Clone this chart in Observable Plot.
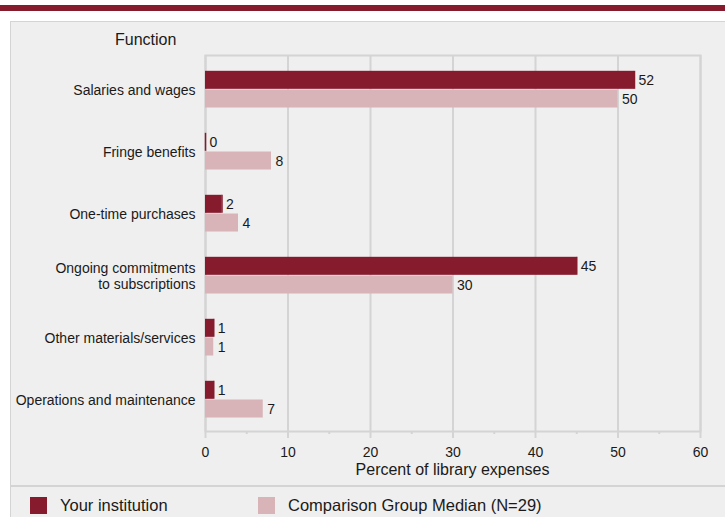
<!DOCTYPE html>
<html>
<head>
<meta charset="utf-8">
<script src="https://cdn.jsdelivr.net/npm/d3@7"></script>
<script src="https://cdn.jsdelivr.net/npm/@observablehq/plot@0.6"></script>
<style>
  html, body { margin: 0; padding: 0; background: #ffffff; }
  body { width: 725px; height: 517px; position: relative; overflow: hidden;
         font-family: "Liberation Sans", Arial, sans-serif; color: #1a1a1a; }
  #band { position: absolute; left: 0; top: 5px; width: 725px; height: 6px; background: #861b2e; }
  #panel { position: absolute; left: 10px; top: 21px; right: 0; bottom: 0; background: #efefef;
           border-top: 1.5px solid #d4d4d4; border-left: 1.5px solid #d4d4d4; }
  #sep { position: absolute; left: 10px; right: 0; top: 485px; height: 0; border-top: 2px solid #d4d4d4; }
  #fn { position: absolute; left: 115px; top: 31px; font-size: 16px; }
  #chart { position: absolute; left: 0; top: 0; }
  #xtitle { position: absolute; left: 205px; width: 495px; top: 461px; text-align: center; font-size: 16px; }
  .leg { position: absolute; top: 496px; font-size: 16.5px; line-height: 18px; }
  .sw { position: absolute; top: 497px; width: 17px; height: 17px; }
</style>
</head>
<body>
<div id="band"></div>
<div id="panel"></div>
<div id="sep"></div>
<div id="fn">Function</div>
<div id="chart"></div>
<div id="xtitle">Percent of library expenses</div>
<div class="sw" style="left:30px;background:#861b2e"></div>
<div class="leg" style="left:60px">Your institution</div>
<div class="sw" style="left:258px;background:#d8b4b9"></div>
<div class="leg" style="left:288px">Comparison Group Median (N=29)</div>
<script>
const categories = [
  "Salaries and wages",
  "Fringe benefits",
  "One-time purchases",
  "Ongoing commitments\nto subscriptions",
  "Other materials/services",
  "Operations and maintenance"
];
const yourInstitution = [52, 0, 2, 45, 1, 1];
const comparisonMedian = [50, 8, 4, 30, 1, 7];
const xTicks = [0, 10, 20, 30, 40, 50, 60];
const minorTicks = [5, 15, 25, 35, 45, 55];

const darkColor = "#861b2e";
const lightColor = "#d8b4b9";
const gridColor = "#d4d4d4";

const yours = categories.map((c, i) => ({category: c, value: yourInstitution[i]}));
const comps = categories.map((c, i) => ({category: c, value: comparisonMedian[i]}));

const step = (431 - 55) / categories.length;
const barH = 18.7;
const topPad = 13.8;

const chart = Plot.plot({
  width: 725,
  height: 485,
  marginTop: 55,
  marginBottom: 54,
  marginLeft: 205,
  marginRight: 25,
  style: {background: "transparent", fontFamily: "Liberation Sans, Arial, sans-serif", fontSize: "14px", color: "#1a1a1a"},
  x: {domain: [0, 60], ticks: xTicks, tickSize: 0, tickPadding: 16, label: null},
  y: {domain: categories, padding: 0, axis: null},
  marks: [
    Plot.ruleX(xTicks, {stroke: gridColor, strokeWidth: 2}),
    Plot.frame({stroke: gridColor, strokeWidth: 2}),
    Plot.ruleX(xTicks, {stroke: gridColor, strokeWidth: 2, insetTop: 376, insetBottom: -7}),
    Plot.ruleX(minorTicks, {stroke: gridColor, strokeWidth: 2, insetTop: 376, insetBottom: -3}),
    Plot.barX(yours, {x: "value", y: "category", fill: darkColor,
      insetTop: topPad, insetBottom: step - topPad - barH}),
    Plot.tickX(yours, {x: "value", y: "category", stroke: darkColor, strokeWidth: 1.5,
      insetTop: topPad, insetBottom: step - topPad - barH}),
    Plot.barX(comps, {x: "value", y: "category", fill: lightColor,
      insetTop: topPad + barH, insetBottom: step - topPad - 2 * barH}),
    Plot.text(yours, {x: "value", y: "category", text: d => String(d.value), textAnchor: "start",
      dx: 4, dy: topPad + barH / 2 - step / 2, fontSize: 14, fill: "#1a1a1a"}),
    Plot.text(comps, {x: "value", y: "category", text: d => String(d.value), textAnchor: "start",
      dx: 4, dy: topPad + 1.5 * barH - step / 2, fontSize: 14, fill: "#1a1a1a"}),
    Plot.text(categories, {y: d => d, text: d => d, frameAnchor: "left", textAnchor: "end",
      dx: -10, dy: 1.5, fontSize: 14, lineHeight: 1.1, fill: "#1a1a1a"})
  ]
});
document.getElementById("chart").appendChild(chart);
</script>
</body>
</html>
